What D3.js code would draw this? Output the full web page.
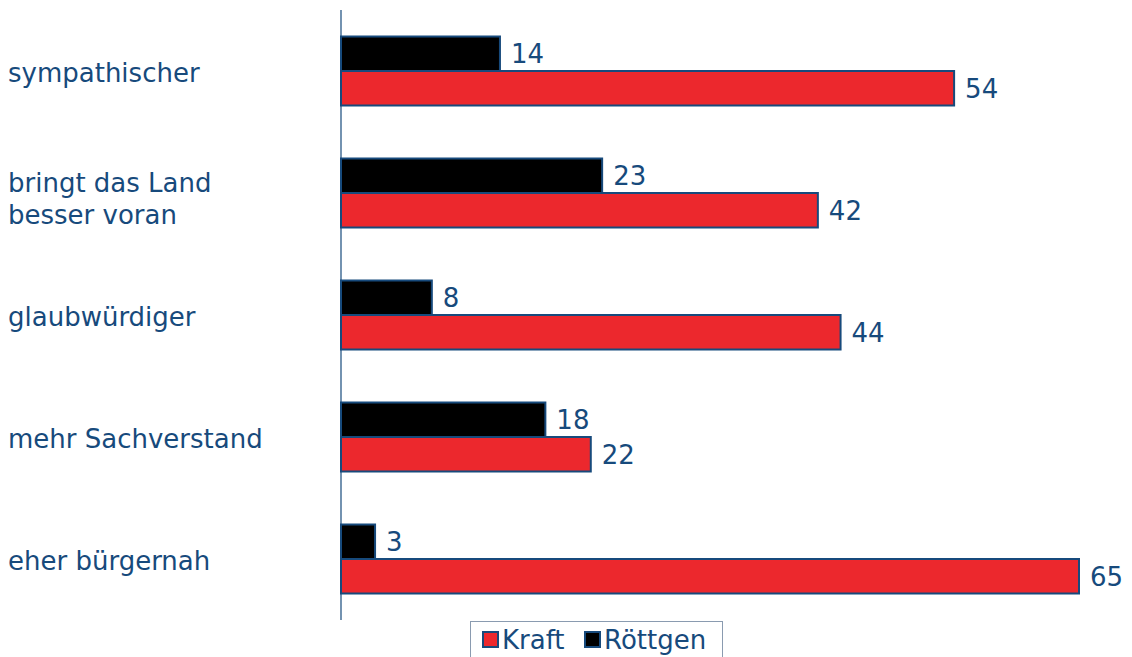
<!DOCTYPE html>
<html>
<head>
<meta charset="utf-8">
<script src="https://cdn.jsdelivr.net/npm/d3@7"></script>
<style>
  body { margin: 0; background: #fff; }
  text { font-family: "DejaVu Sans", Verdana, sans-serif; fill: #174a7c; }
</style>
</head>
<body>
<svg id="chart"></svg>
<script>
const categories = [
  ["sympathischer"],
  ["bringt das Land", "besser voran"],
  ["glaubwürdiger"],
  ["mehr Sachverstand"],
  ["eher bürgernah"]
];
const kraftValues = [54, 42, 44, 22, 65];
const roettgenValues = [14, 23, 8, 18, 3];
const seriesNames = ["Kraft", "Röttgen"];
const seriesColors = ["#ec282d", "#000000"];

const width = 1132, height = 657;
const margin = { top: 10, left: 341, bottom: 37 };
const stroke = "#174a7c";
const fontSize = "26px";

const svg = d3.select("#chart").attr("width", width).attr("height", height);

const x = d3.scaleLinear().domain([0, 65]).range([margin.left, 1079]);
const y = d3.scaleBand()
  .domain(d3.range(categories.length))
  .range([margin.top, height - margin.bottom]);

const barH = 34.5;

// bars: Röttgen on top, Kraft below
const rows = categories.map((c, i) => ({ i, label: c, kraft: kraftValues[i], roettgen: roettgenValues[i] }));

const g = svg.append("g");

rows.forEach(d => {
  const mid = y(d.i) + y.bandwidth() / 2;
  const bars = [
    { v: d.roettgen, y0: mid - barH, color: seriesColors[1] },
    { v: d.kraft, y0: mid, color: seriesColors[0] }
  ];
  bars.forEach(b => {
    g.append("rect")
      .attr("x", x(0))
      .attr("y", b.y0)
      .attr("width", x(b.v) - x(0))
      .attr("height", barH)
      .attr("fill", b.color)
      .attr("stroke", stroke)
      .attr("stroke-width", 2);
    g.append("text")
      .attr("x", x(b.v) + 11)
      .attr("y", b.y0 + barH / 2)
      .attr("dy", "0.36em")
      .style("font-size", fontSize)
      .text(b.v);
  });

  const lineH = 32;
  const t = svg.append("text")
    .attr("y", mid + 2 + (d.label.length - 1) * 4 - (d.label.length - 1) * lineH / 2)
    .style("font-size", fontSize);
  d.label.forEach((l, k) => {
    t.append("tspan").attr("x", 8).attr("dy", k === 0 ? "0.36em" : lineH).text(l);
  });
});

// vertical axis line
svg.append("line")
  .attr("x1", x(0)).attr("x2", x(0))
  .attr("y1", margin.top).attr("y2", height - margin.bottom)
  .attr("stroke", stroke)
  .attr("stroke-width", 1.2);

// legend
const legend = svg.append("g");
legend.append("rect")
  .attr("x", 470.5).attr("y", 621.5)
  .attr("width", 252).attr("height", 50)
  .attr("fill", "#fff")
  .attr("stroke", "#8a9bb0")
  .attr("stroke-width", 1);
const items = [
  { name: seriesNames[0], color: seriesColors[0], x: 483 },
  { name: seriesNames[1], color: seriesColors[1], x: 585 }
];
items.forEach(it => {
  legend.append("rect")
    .attr("x", it.x).attr("y", 632)
    .attr("width", 15).attr("height", 15)
    .attr("fill", it.color)
    .attr("stroke", stroke)
    .attr("stroke-width", 2);
  legend.append("text")
    .attr("x", it.x + 19)
    .attr("y", 640)
    .attr("dy", "0.36em")
    .style("font-size", fontSize)
    .text(it.name);
});
</script>
</body>
</html>
